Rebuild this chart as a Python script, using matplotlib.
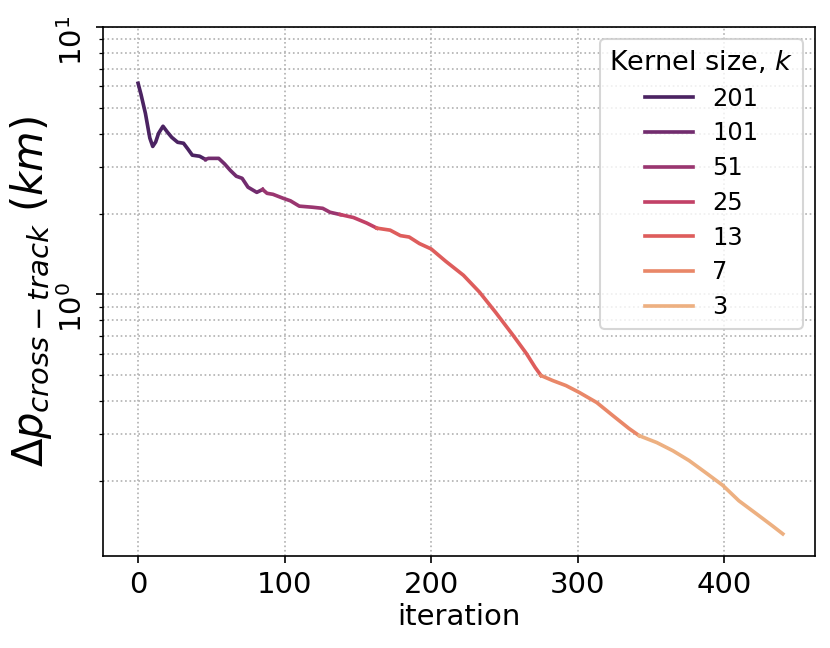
import matplotlib
matplotlib.use('Agg')
import matplotlib.pyplot as plt
import numpy as np
import seaborn as sns

# loss curve (iteration, cross-track error in km)
iters = [0, 2, 5, 8, 10, 12, 14, 17, 20, 23, 27, 31, 34, 37, 42, 46, 48, 55,
         59, 63, 67, 71, 75, 81, 85, 88, 92, 99, 104, 110, 119, 126, 131, 138,
         147, 156, 163, 172, 179, 185, 192, 200, 210, 222, 233, 244, 256, 265,
         271, 275, 283, 292, 301, 313, 324, 335, 342, 354, 365, 376, 388, 399,
         410, 422, 433, 440]
dp = [6.17, 5.6, 4.76, 3.85, 3.58, 3.72, 4.01, 4.26, 4.05, 3.87, 3.71, 3.68,
      3.5, 3.32, 3.29, 3.20, 3.23, 3.23, 3.08, 2.91, 2.77, 2.72, 2.52, 2.41,
      2.47, 2.39, 2.37, 2.29, 2.24, 2.14, 2.12, 2.10, 2.03, 1.99, 1.94, 1.85,
      1.77, 1.74, 1.66, 1.64, 1.55, 1.48, 1.33, 1.18, 1.02, 0.857, 0.702,
      0.601, 0.533, 0.497, 0.476, 0.456, 0.430, 0.394, 0.352, 0.315, 0.296,
      0.279, 0.260, 0.239, 0.214, 0.193, 0.169, 0.151, 0.136, 0.127]

kernel_sizes = [201, 101, 51, 25, 13, 7, 3]
kernel_start = [0, 46, 85, 138, 163, 275, 342]

cmap = sns.color_palette('flare_r', as_cmap=True)
colors = [cmap(t) for t in np.linspace(0, 1, len(kernel_sizes))]

fig = plt.figure(figsize=(830 / 150, 648 / 150), dpi=150)
ax = fig.add_axes([0.124, 0.142, 0.858, 0.816])

for i, k in enumerate(kernel_sizes):
    lo = kernel_start[i]
    hi = kernel_start[i + 1] if i + 1 < len(kernel_start) else iters[-1]
    xs = [x for x in iters if lo <= x <= hi]
    ys = [y for x, y in zip(iters, dp) if lo <= x <= hi]
    ax.plot(xs, ys, color=colors[i], lw=1.75, label=str(k))

ax.set_yscale('log')
ax.set_xlim(-24, 462)
ax.set_ylim(0.105, 10)
ax.grid(True, which='major', axis='x', ls=':', color='#b0b0b0')
ax.grid(True, which='both', axis='y', ls=':', color='#b0b0b0')

ax.tick_params(axis='both', which='major', labelsize=14)
plt.setp(ax.get_yticklabels(), rotation=90)
ax.set_xlabel('iteration', fontsize=14, labelpad=2)
ax.set_ylabel(r'$\Delta p_{cross-track}$ $(km)$', fontsize=20, labelpad=2)

ax.legend(title='Kernel size, $k$', fontsize=11.5, title_fontsize=13,
          loc='upper right', labelspacing=0.45)

fig.savefig('out.png', dpi=150)
